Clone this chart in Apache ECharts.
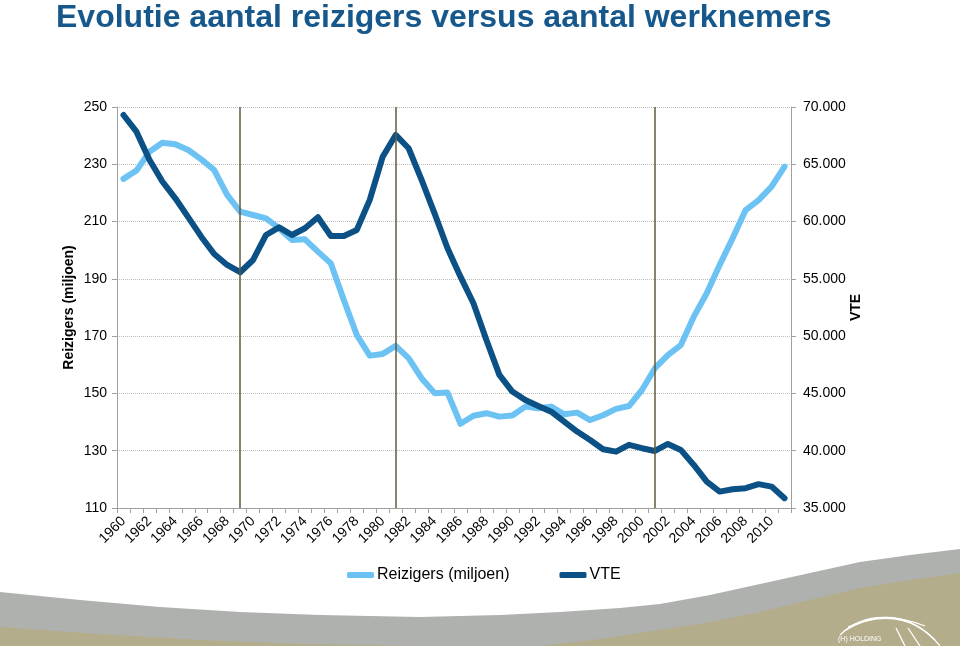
<!DOCTYPE html>
<html>
<head>
<meta charset="utf-8">
<script src="https://cdn.jsdelivr.net/npm/echarts@6/dist/echarts.min.js"></script>
<style>
  html, body { margin: 0; padding: 0; background: #fff; }
  #chart { width: 960px; height: 646px; }
</style>
</head>
<body>
<div id="chart"></div>
<script>
var years = [];
for (var y = 1960; y <= 2011; y++) years.push(String(y));

// Reizigers (miljoen), linker as
var reizigers = [224.9, 227.8, 234.4, 237.5, 237.0, 235.0, 231.7, 228.0, 219.3, 213.5,
    212.3, 211.1, 207.7, 203.6, 203.8, 199.5, 195.4, 182.6, 170.4, 163.2,
    163.8, 166.6, 162.3, 155.3, 150.1, 150.3, 139.4, 142.2, 143.1, 141.9,
    142.3, 145.4, 144.8, 145.4, 142.7, 143.3, 140.7, 142.4, 144.6, 145.6,
    151.2, 158.8, 163.4, 166.9, 176.8, 185.0, 194.9, 204.2, 214.0, 217.5,
    222.2, 229.2];

// VTE, rechter as
var vte = [69300, 67850, 65400, 63500, 62030, 60370, 58680, 57170, 56210, 55580,
    56650, 58830, 59500, 58830, 59420, 60380, 58740, 58740, 59270, 61890,
    65660, 67560, 66400, 63630, 60720, 57670, 55190, 52870, 49670, 46620,
    45160, 44430, 43910, 43410, 42540, 41670, 40940, 40130, 39920, 40510,
    40220, 39980, 40590, 40070, 38760, 37310, 36430, 36640, 36730, 37080,
    36870, 35860];

// jaren met verticale markering
var markYears = ['1969', '1981', '2001'];

var myChart = echarts.init(document.getElementById('chart'));
var fontFam = 'Liberation Sans, Arial, sans-serif';

var option = {
    animation: false,
    backgroundColor: '#fff',
    textStyle: { fontFamily: fontFam },
    title: {
        text: 'Evolutie aantal reizigers versus aantal werknemers',
        left: 56,
        top: 2,
        padding: 0,
        textStyle: { fontSize: 32, fontWeight: 'bold', color: '#17588c', fontFamily: fontFam }
    },
    legend: {
        left: 342,
        top: 562,
        icon: 'roundRect',
        itemWidth: 27,
        itemHeight: 6,
        itemGap: 50,
        textStyle: { fontSize: 16, color: '#000', fontFamily: fontFam, padding: [0, 0, 0, -2] },
        data: ['Reizigers (miljoen)', 'VTE']
    },
    grid: { left: 117, right: 169, top: 107, bottom: 138, containLabel: false },
    xAxis: {
        type: 'category',
        data: years,
        boundaryGap: true,
        axisLine: { lineStyle: { color: '#a0a0a0', width: 1 } },
        axisTick: { show: true, interval: 0, length: 5, lineStyle: { color: '#a0a0a0' } },
        axisLabel: { interval: 1, rotate: 45, fontSize: 14, color: '#000', margin: 11 },
        splitLine: { show: false }
    },
    yAxis: [
        {
            type: 'value',
            position: 'left',
            min: 110,
            max: 250,
            interval: 20,
            name: 'Reizigers (miljoen)',
            nameLocation: 'middle',
            nameRotate: 90,
            nameGap: 41,
            nameMoveOverlap: false,
            nameTextStyle: { fontSize: 14, fontWeight: 'bold', color: '#000' },
            axisLine: { show: true, lineStyle: { color: '#a0a0a0' } },
            axisTick: { show: true, length: 5, lineStyle: { color: '#a0a0a0' } },
            axisLabel: { fontSize: 14, color: '#000', margin: 10 },
            splitLine: { show: true, lineStyle: { color: '#bdbdbd', type: 'dotted', width: 1 } }
        },
        {
            type: 'value',
            position: 'right',
            min: 35000,
            max: 70000,
            interval: 5000,
            name: 'VTE',
            nameLocation: 'middle',
            nameRotate: 90,
            nameGap: 58,
            nameMoveOverlap: false,
            nameTextStyle: { fontSize: 14, fontWeight: 'bold', color: '#000' },
            axisLine: { show: true, lineStyle: { color: '#a0a0a0' } },
            axisTick: { show: true, length: 5, lineStyle: { color: '#a0a0a0' } },
            axisLabel: {
                fontSize: 14, color: '#000', margin: 12,
                formatter: function (v) { return (v / 1000).toFixed(0) + '.000'; }
            },
            splitLine: { show: false }
        }
    ],
    series: [
        {
            name: 'Reizigers (miljoen)',
            type: 'line',
            yAxisIndex: 0,
            data: reizigers,
            symbol: 'none',
            color: '#6cc3f3',
            lineStyle: { width: 6, color: '#6cc3f3', cap: 'round', join: 'round' },
            markLine: {
                silent: true,
                symbol: ['none', 'none'],
                label: { show: false },
                lineStyle: { color: '#5f5a3c', type: 'solid', width: 1.5 },
                data: markYears.map(function (yr) { return { xAxis: yr }; })
            },
            z: 3
        },
        {
            name: 'VTE',
            type: 'line',
            yAxisIndex: 1,
            data: vte,
            symbol: 'none',
            color: '#0b5185',
            lineStyle: { width: 6, color: '#0b5185', cap: 'round', join: 'round' },
            z: 4
        }
    ],
    graphic: [
        {
            type: 'polygon', z: -1, silent: true,
            shape: { points: [[0, 592], [80, 600], [160, 607], [240, 612], [320, 615], [420, 617],
                [500, 615], [560, 612], [620, 608], [660, 604], [710, 595], [760, 584],
                [810, 573], [860, 562], [910, 555], [960, 549], [960, 646], [0, 646]] },
            style: { fill: '#aeb1ad' }
        },
        {
            type: 'polygon', z: -1, silent: true,
            shape: { points: [[0, 627], [100, 634], [200, 640], [300, 644], [430, 646], [0, 646]] },
            style: { fill: '#b4ad8c' }
        },
        {
            type: 'polygon', z: -1, silent: true,
            shape: { points: [[540, 646], [600, 639], [660, 630], [710, 622], [760, 612],
                [810, 600], [860, 588], [910, 580], [960, 573], [960, 646]] },
            style: { fill: '#b4ad8c' }
        },
        {
            type: 'group', silent: true, z: 0,
            children: [
                { type: 'bezierCurve', shape: { x1: 840, y1: 635, x2: 925, y2: 626, cpx1: 870, cpy1: 605 }, style: { stroke: '#fff', lineWidth: 1.3, fill: null } },
                { type: 'bezierCurve', shape: { x1: 844, y1: 631, x2: 935, y2: 640, cpx1: 895, cpy1: 600 }, style: { stroke: '#fff', lineWidth: 1.3, fill: null } },
                { type: 'bezierCurve', shape: { x1: 848, y1: 627, x2: 940, y2: 646, cpx1: 905, cpy1: 603 }, style: { stroke: '#fff', lineWidth: 1.3, fill: null } },
                { type: 'line', shape: { x1: 896, y1: 628, x2: 905, y2: 646 }, style: { stroke: '#fff', lineWidth: 1.3 } },
                { type: 'line', shape: { x1: 908, y1: 628, x2: 920, y2: 646 }, style: { stroke: '#fff', lineWidth: 1.3 } },
                { type: 'text', x: 838, y: 636, style: { text: '(H) HOLDING', fill: '#fff', fontSize: 7, fontFamily: fontFam } }
            ]
        }
    ]
};
myChart.setOption(option);
</script>
</body>
</html>
